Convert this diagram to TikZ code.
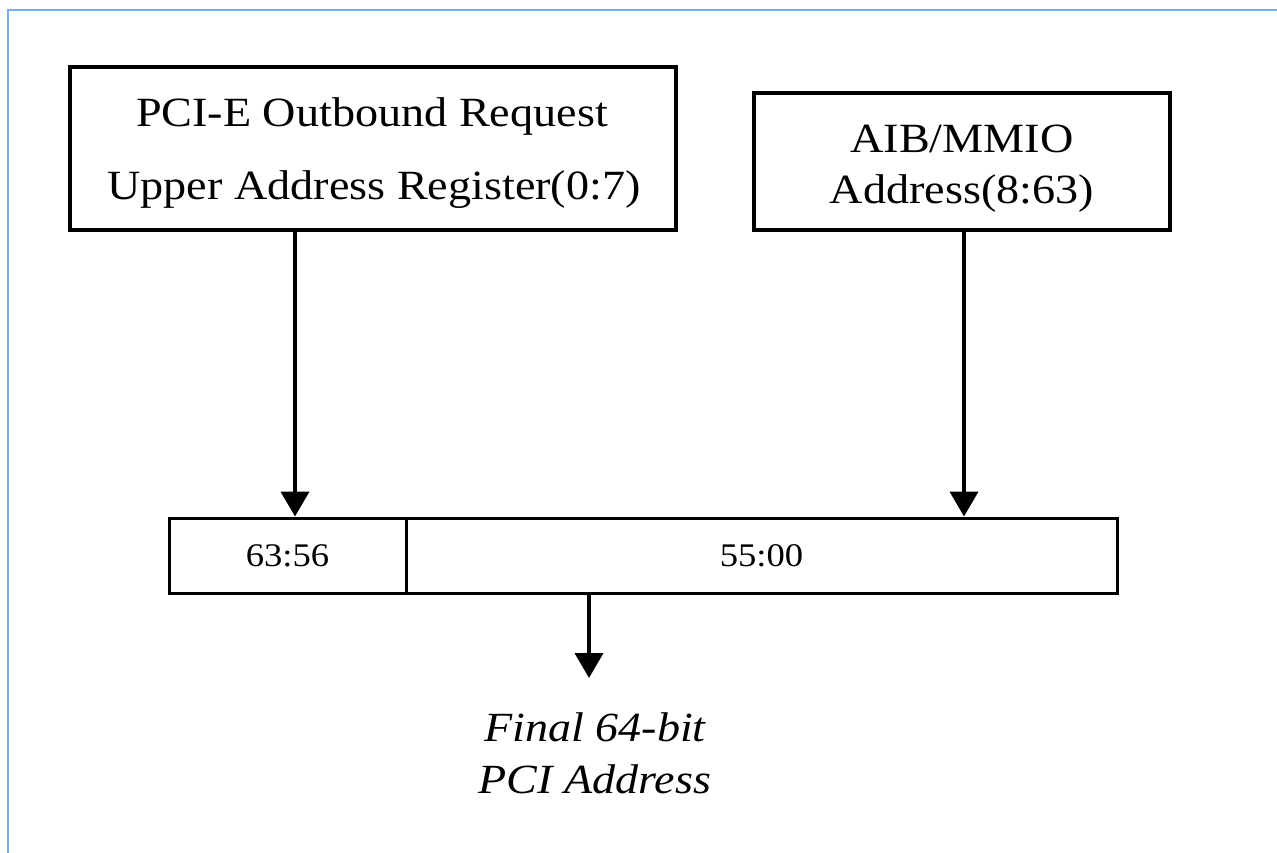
\documentclass[tikz,border=0pt]{standalone}
\usepackage{fontspec}
\setmainfont{Liberation Serif}[FakeStretch=1.11]
\usetikzlibrary{arrows.meta}

\definecolor{frameblue}{RGB}{120,175,232}

\tikzset{
  frameline/.style={draw=frameblue, line width=2pt},
  srcbox/.style={draw, line width=4pt, rectangle, inner sep=0pt},
  srctext/.style={inner sep=0pt, anchor=base, font=\fontsize{41.6}{49}\selectfont},
  field/.style={draw, line width=3pt, rectangle, inner sep=0pt, minimum height=75pt,
    font=\fontsize{33}{40}\selectfont},
  feed/.style={line width=4pt, -{Triangle[width=28pt,length=25pt]}},
  result/.style={inner sep=0pt, align=center, font=\fontsize{41.5}{52}\selectfont\itshape},
}

\begin{document}
\begin{tikzpicture}[x=1pt, y=-1pt]
  \useasboundingbox (0,0) rectangle (1277,853);

  % light frame along the top and left edges
  \draw[frameline] (8,853) -- (8,10.5) -- (1277,10.5);

  % source registers
  \node[srcbox, minimum width=606pt, minimum height=163pt] (reg) at (373,148.5) {};
  \node[srctext] (regA) at (372,126.7) {PCI-E Outbound Request};
  \node[srctext] (regB) at (374,200) {Upper Address Register(0:7)};

  \node[srcbox, minimum width=416pt, minimum height=137pt] (aib) at (962,161.5) {};
  \node[srctext] (aibA) at (962,152.3) {AIB/MMIO};
  \node[srctext] (aibB) at (962,203.3) {Address(8:63)};

  % assembled 64-bit address
  \node[field, minimum width=237pt] (hi) at (287.5,555.5) {63:56};
  \node[field, minimum width=711pt] (lo) at (761.5,555.5) {55:00};

  % data flow
  \draw[feed] (reg.south -| 295,0) -- (hi.north -| 295,0);
  \draw[feed] (aib.south -| 964,0) -- (lo.north -| 964,0);

  \coordinate (out) at (589,678);
  \draw[feed] (lo.south -| out) -- (out);

  \node[result] (final) at (595,753) {Final 64-bit\\PCI Address};
\end{tikzpicture}
\end{document}
